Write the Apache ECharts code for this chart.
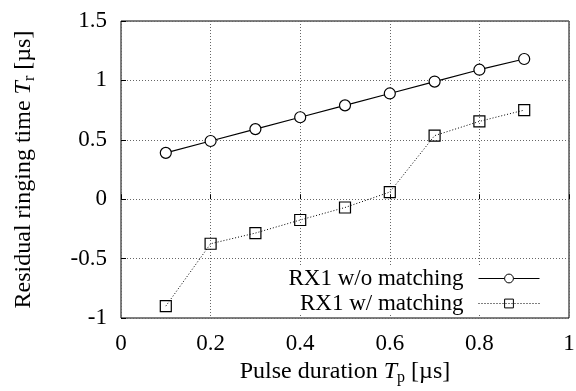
<!DOCTYPE html>
<html>
<head>
<meta charset="utf-8">
<script src="https://cdn.jsdelivr.net/npm/echarts@6/dist/echarts.min.js"></script>
<style>
  html, body { margin: 0; padding: 0; background: #fff; }
  #chart { width: 576px; height: 391px; }
</style>
</head>
<body>
<div id="chart"></div>
<script>
// pulse duration Tp [us]
const pulseDuration = [0.1, 0.2, 0.3, 0.4, 0.5, 0.6, 0.7, 0.8, 0.9]
// residual ringing time Tr [us]
const withoutMatching = [0.39, 0.49, 0.59, 0.69, 0.79, 0.89, 0.99, 1.09, 1.18]
const withMatching = [-0.9, -0.375, -0.285, -0.175, -0.07, 0.06, 0.535, 0.655, 0.75]
const seriesNames = ['RX1 w/o matching', 'RX1 w/ matching']

const font = 'Liberation Serif'
const fs = 23
const chart = echarts.init(document.getElementById('chart'))

const pairs = (ys) => pulseDuration.map((x, i) => [x, ys[i]])

const nameRich = {
  i: { fontStyle: 'italic', fontFamily: font, fontSize: 24, color: '#000' },
  sub: { fontFamily: font, fontSize: 16, color: '#000', padding: [12, 0, 0, 0] },
}

chart.setOption({
  animation: false,
  textStyle: { fontFamily: font, color: '#000' },
  grid: {
    left: 121,
    right: 7,
    top: 21,
    bottom: 73,
    outerBoundsMode: 'none',
    show: true,
    borderColor: '#000',
    borderWidth: 1,
  },
  legend: {
    orient: 'vertical',
    align: 'right',
    right: 34,
    top: 267,
    itemWidth: 61,
    itemHeight: 11,
    itemGap: 2,
    backgroundColor: '#fff',
    padding: [0, 2, 0, 4],
    lineStyle: { width: 1 },
    itemStyle: { borderWidth: 1 },
    textStyle: { fontFamily: font, fontSize: fs, color: '#000', padding: [0, 10, 0, 0] },
    data: seriesNames,
  },
  xAxis: {
    type: 'value',
    min: 0,
    max: 1,
    interval: 0.2,
    name: 'Pulse duration {i|T}{sub|p} [µs]',
    nameLocation: 'middle',
    nameGap: 39,
    nameTextStyle: { fontFamily: font, fontSize: 24, color: '#000', rich: nameRich },
    axisLine: { show: false },
    axisTick: { show: true, inside: true, length: 5, lineStyle: { color: '#000' } },
    axisLabel: { fontFamily: font, fontSize: fs, color: '#000', margin: 14 },
    splitLine: { show: true, lineStyle: { color: '#666', type: [1, 2], width: 1 } },
  },
  yAxis: {
    type: 'value',
    min: -1,
    max: 1.5,
    interval: 0.5,
    name: 'Residual ringing time {i|T}{sub|r} [µs]',
    nameLocation: 'middle',
    nameGap: 83,
    nameTextStyle: { fontFamily: font, fontSize: 24, color: '#000', rich: nameRich },
    axisLine: { show: false },
    axisTick: { show: true, inside: true, length: 5, lineStyle: { color: '#000' } },
    axisLabel: { fontFamily: font, fontSize: fs, color: '#000', margin: 14 },
    splitLine: { show: true, lineStyle: { color: '#666', type: [1, 2], width: 1 } },
  },
  series: [
    {
      name: seriesNames[0],
      type: 'line',
      data: pairs(withoutMatching),
      symbol: 'circle',
      symbolSize: 11,
      lineStyle: { color: '#000', width: 1.2, type: 'solid' },
      itemStyle: { color: '#fff', borderColor: '#000', borderWidth: 1.2 },
    },
    {
      name: seriesNames[1],
      type: 'line',
      data: pairs(withMatching),
      symbol: 'rect',
      symbolSize: 11,
      lineStyle: { color: '#000', width: 1, type: [1, 2] },
      itemStyle: { color: 'rgba(255,255,255,0)', borderColor: '#000', borderWidth: 1.2 },
    },
  ],
})
</script>
</body>
</html>
